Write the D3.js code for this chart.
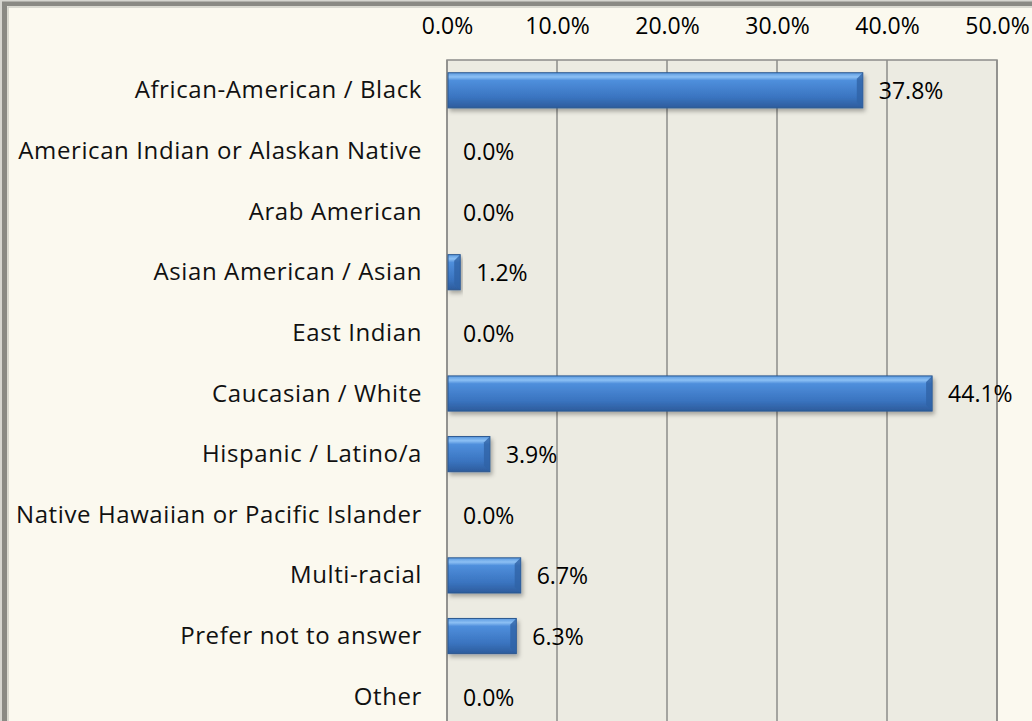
<!DOCTYPE html>
<html>
<head>
<meta charset="utf-8">
<script src="https://cdn.jsdelivr.net/npm/d3@7"></script>
<style>
  html, body { margin: 0; padding: 0; background: #fbf9ef; overflow: hidden; }
  svg { display: block; }
</style>
</head>
<body>
<svg id="chart" width="1032" height="721"></svg>
<script>
"use strict";

// Données
var categories = [
  "African-American / Black",
  "American Indian or Alaskan Native",
  "Arab American",
  "Asian American / Asian",
  "East Indian",
  "Caucasian / White",
  "Hispanic / Latino/a",
  "Native Hawaiian or Pacific Islander",
  "Multi-racial",
  "Prefer not to answer",
  "Other"
];
var percents = [37.8, 0.0, 0.0, 1.2, 0.0, 44.1, 3.9, 0.0, 6.7, 6.3, 0.0];
var tickValues = [0, 10, 20, 30, 40, 50];

var svg = d3.select("#chart");

var plot = { left: 447, right: 997, top: 60, bottom: 727 };

var x = d3.scaleLinear().domain([0, 50]).range([plot.left, plot.right]);
var y = d3.scaleBand().domain(categories).range([plot.top, plot.bottom]).paddingInner(0.42).paddingOuter(0.21);

var defs = svg.append("defs");

var grad = defs.append("linearGradient")
  .attr("id", "barGrad")
  .attr("x1", 0).attr("y1", 0).attr("x2", 0).attr("y2", 1);
grad.append("stop").attr("offset", "0%").attr("stop-color", "#5b9ae0");
grad.append("stop").attr("offset", "12%").attr("stop-color", "#8cc0f4");
grad.append("stop").attr("offset", "22%").attr("stop-color", "#4f8fdc");
grad.append("stop").attr("offset", "70%").attr("stop-color", "#3a74c0");
grad.append("stop").attr("offset", "100%").attr("stop-color", "#2d5c9c");

var shadow = defs.append("filter").attr("id", "shadow")
  .attr("x", "-10%").attr("y", "-20%").attr("width", "130%").attr("height", "160%");
shadow.append("feDropShadow")
  .attr("dx", 2).attr("dy", 3).attr("stdDeviation", 2)
  .attr("flood-color", "#000").attr("flood-opacity", 0.3);

// Cadre extérieur
svg.append("rect")
  .attr("x", 0).attr("y", 0).attr("width", 1200).attr("height", 900)
  .attr("fill", "#fbf9ef");
svg.append("rect")
  .attr("x", 4.5).attr("y", 3.5).attr("width", 1200).attr("height", 900)
  .attr("fill", "none").attr("stroke", "#8a8a84").attr("stroke-width", 5);
svg.append("rect")
  .attr("x", 1).attr("y", 0.5).attr("width", 1200).attr("height", 900)
  .attr("fill", "none").attr("stroke", "#d6d6d0").attr("stroke-width", 2);
svg.append("rect")
  .attr("x", 8).attr("y", 7).attr("width", 1200).attr("height", 900)
  .attr("fill", "none").attr("stroke", "#cfcfc8").attr("stroke-width", 1.5);

// Zone de tracé
svg.append("rect")
  .attr("x", plot.left).attr("y", plot.top)
  .attr("width", plot.right - plot.left).attr("height", plot.bottom - plot.top)
  .attr("fill", "#ecebe2")
  .attr("stroke", "#8c8c8a").attr("stroke-width", 1.5);

// Grille verticale
svg.append("g").selectAll("line")
  .data(tickValues)
  .enter()
  .append("line")
  .attr("x1", function (d) { return x(d); })
  .attr("x2", function (d) { return x(d); })
  .attr("y1", plot.top)
  .attr("y2", plot.bottom)
  .attr("stroke", "#8c8c8a")
  .attr("stroke-width", 1.5);

// Axe du haut
var axisTop = d3.axisTop(x)
  .tickValues(tickValues)
  .tickSize(0)
  .tickPadding(0)
  .tickFormat(function (d) { return d3.format(".1f")(d) + "%"; });

var gx = svg.append("g")
  .attr("transform", "translate(0,34)")
  .call(axisTop);
gx.select(".domain").remove();
gx.selectAll("text")
  .attr("fill", "#000")
  .style("font-family", "'Open Sans', sans-serif")
  .style("font-size", "23px");

// Libellés des catégories
svg.append("g").selectAll("text")
  .data(categories)
  .enter()
  .append("text")
  .attr("x", 422)
  .attr("y", function (d) { return y(d) + y.bandwidth() / 2 + 8; })
  .attr("text-anchor", "end")
  .style("font-family", "'Open Sans', sans-serif")
  .style("font-size", "24px")
  .style("letter-spacing", "0.6px")
  .attr("fill", "#111")
  .text(function (d) { return d; });

// Barres
var bars = svg.append("g").selectAll("g")
  .data(percents)
  .enter()
  .append("g")
  .attr("transform", function (d, i) { return "translate(0," + y(categories[i]) + ")"; });

var h = y.bandwidth();

bars.filter(function (d) { return d > 0; })
  .append("rect")
  .attr("x", x(0) + 1)
  .attr("y", 0)
  .attr("width", function (d) { return x(d) - x(0) - 1; })
  .attr("height", h)
  .attr("fill", "url(#barGrad)")
  .attr("stroke", "#2b5890")
  .attr("stroke-width", 1)
  .attr("filter", "url(#shadow)");

// Biseau à l'extrémité droite
bars.filter(function (d) { return d > 0; })
  .append("path")
  .attr("d", function (d) {
    var x1 = x(d), b = Math.min(6, (x(d) - x(0)) / 2);
    return "M" + (x1 - b) + "," + b + "L" + x1 + ",0L" + x1 + "," + h + "L" + (x1 - b) + "," + (h - b) + "Z";
  })
  .attr("fill", "#2f63a6")
  .attr("opacity", 0.8);

// Étiquettes de valeur
bars.append("text")
  .attr("x", function (d) { return x(d) + 16; })
  .attr("y", h / 2 + 9)
  .style("font-family", "'Open Sans', sans-serif")
  .style("font-size", "23px")
  .attr("fill", "#000")
  .text(function (d) { return d3.format(".1f")(d) + "%"; });
</script>
</body>
</html>
